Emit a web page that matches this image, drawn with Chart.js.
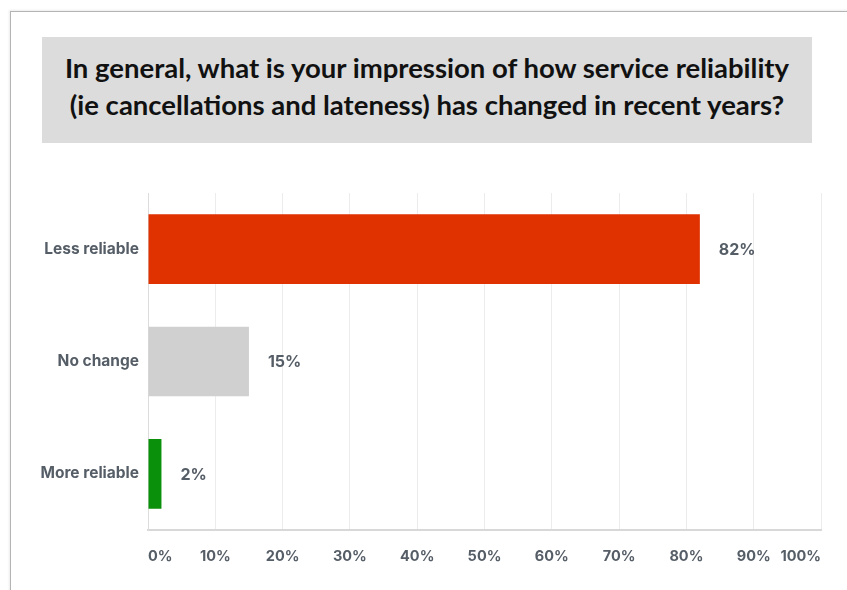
<!DOCTYPE html>
<html lang="en">
<head>
  <meta charset="UTF-8">
  <title>service reliability</title>
  <script src="https://cdn.jsdelivr.net/npm/chart.js@4.4.1/dist/chart.umd.min.js"></script>
  <style>
    body {
      margin: 0;
      width: 847px;
      height: 590px;
      overflow: hidden;
      background: #fff;
      position: relative;
    }
    #frame {
      position: absolute;
      left: 10px;
      top: 11px;
      width: 900px;
      height: 700px;
      border: 1px solid #b4b4b4;
      box-shadow: -1px -1px 2px rgba(0, 0, 0, 0.08);
    }
    #title {
      position: absolute;
      left: 42px;
      top: 37px;
      width: 770px;
      height: 106px;
      background: #dcdcdc;
      font-family: Lato, "Open Sans", sans-serif;
      font-weight: bold;
      font-size: 27.5px;
      line-height: 37px;
      color: #111;
      text-align: center;
      box-sizing: border-box;
      padding-top: 12px;
      white-space: nowrap;
    }
    #wrap {
      position: absolute;
      left: 0;
      top: 0;
      width: 847px;
      height: 590px;
    }
  </style>
</head>
<body>
  <div id="frame"></div>
  <div id="wrap"><canvas id="chart"></canvas></div>
  <div id="title">In general, what is your impression of how service reliability<br>(ie cancellations and lateness) has changed in recent years?</div>

  <script>
    const categories = ['Less reliable', 'No change', 'More reliable'];
    const percentages = [82, 15, 2];
    const barColors = ['#e03100', '#d0d0d0', '#0a900a'];
    const tickValues = [0, 10, 20, 30, 40, 50, 60, 70, 80, 90, 100];

    const labelColor = '#555d66';

    // draw the "82%" style labels just past the end of each bar
    const valueLabels = {
      id: 'valueLabels',
      afterDatasetsDraw(chart) {
        const ctx = chart.ctx;
        const meta = chart.getDatasetMeta(0);
        ctx.save();
        ctx.font = 'bold 16px Inter, sans-serif';
        ctx.fillStyle = labelColor;
        ctx.textAlign = 'left';
        ctx.textBaseline = 'middle';
        meta.data.forEach((bar, i) => {
          ctx.fillText(percentages[i] + '%', bar.x + 19, bar.y + 1);
        });
        ctx.restore();
      }
    };

    new Chart(document.getElementById('chart'), {
      type: 'bar',
      data: {
        labels: categories,
        datasets: [{
          data: percentages,
          backgroundColor: barColors,
          borderWidth: 0,
          categoryPercentage: 1,
          barPercentage: 0.62
        }]
      },
      options: {
        indexAxis: 'y',
        responsive: true,
        maintainAspectRatio: false,
        animation: false,
        events: [],
        layout: {
          padding: { top: 193, right: 26, left: 0, bottom: 0 }
        },
        plugins: {
          legend: { display: false },
          tooltip: { enabled: false }
        },
        scales: {
          x: {
            min: 0,
            max: 100,
            afterBuildTicks(scale) {
              scale.ticks = tickValues.map(v => ({ value: v }));
            },
            afterFit(scale) {
              scale.height = 60;
            },
            grid: {
              color: '#ececec',
              lineWidth: 1,
              drawTicks: false
            },
            border: {
              color: '#d8d8d8',
              width: 2
            },
            ticks: {
              align: 'inner',
              padding: 18,
              color: labelColor,
              font: { family: 'Inter, sans-serif', weight: 'bold', size: 14.5 },
              callback: v => v + '%'
            }
          },
          y: {
            afterFit(scale) {
              scale.width = 148;
            },
            grid: { display: false, drawTicks: false },
            border: { color: '#dcdcdc', width: 1 },
            ticks: {
              padding: 9,
              color: labelColor,
              font: { family: 'Inter, sans-serif', weight: 'bold', size: 15.5 }
            }
          }
        }
      },
      plugins: [valueLabels]
    });
  </script>
</body>
</html>
